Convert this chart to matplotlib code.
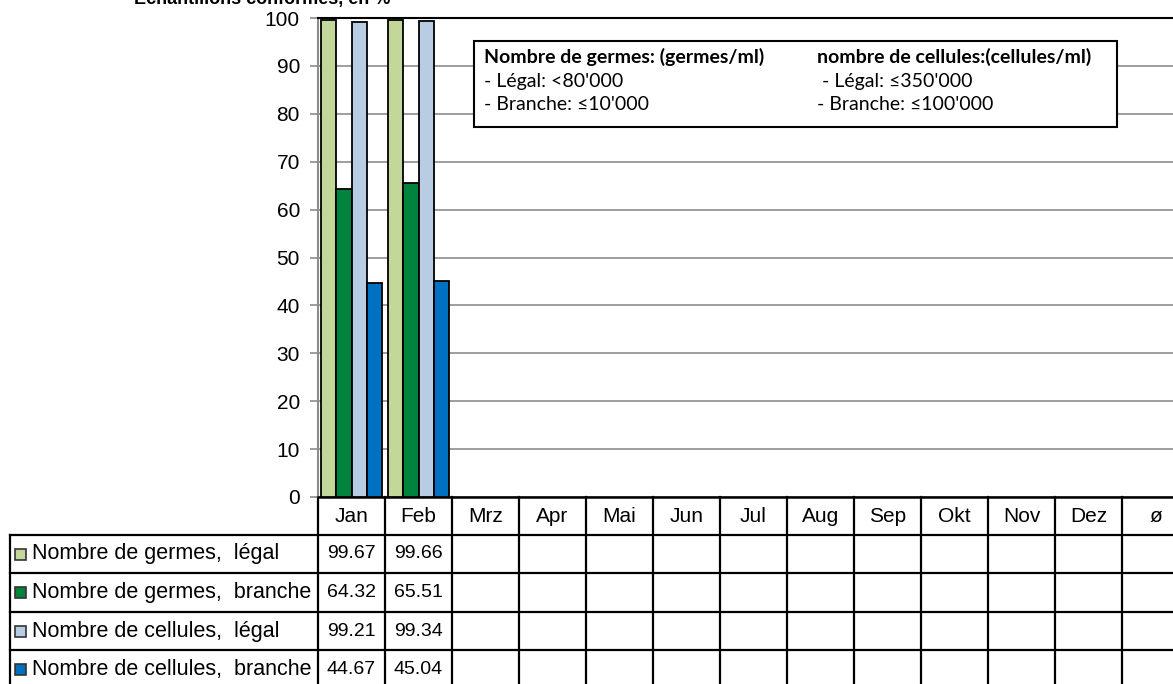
import numpy as np
import matplotlib.pyplot as plt
from matplotlib.patches import Rectangle
from matplotlib.transforms import blended_transform_factory

W, H = 1173, 684

months = ["Jan", "Feb", "Mrz", "Apr", "Mai", "Jun", "Jul", "Aug", "Sep", "Okt", "Nov", "Dez", "ø"]
series_names = [
    "Nombre de germes,  légal",
    "Nombre de germes,  branche",
    "Nombre de cellules,  légal",
    "Nombre de cellules,  branche",
]
germes_legal = [99.67, 99.66]
germes_branche = [64.32, 65.51]
cellules_legal = [99.21, 99.34]
cellules_branche = [44.67, 45.04]
series_values = [germes_legal, germes_branche, cellules_legal, cellules_branche]
colors = ["#C4D79B", "#00843D", "#B8CCE4", "#0070C0"]

yticks = list(range(0, 101, 10))

plt.rcParams['font.family'] = ['Liberation Sans', 'DejaVu Sans']

fig = plt.figure(figsize=(W / 100, H / 100), dpi=100)


def fx(px):
    return px / W


def fy(py):
    return 1 - py / H


# plot area: left spine at x=318, 0 at y=497, 100 at y=18, 67 px per column
col_w = 67
ax = fig.add_axes([fx(318), fy(497), col_w * len(months) / W, (497 - 18) / H])
ax.set_xlim(-0.5, len(months) - 0.5)
ax.set_ylim(0, 100)

bw = 0.225
offsets = (np.arange(4) - 1.5) * bw
for k, vals in enumerate(series_values):
    x = np.arange(len(vals)) + offsets[k]
    ax.bar(x, vals, width=bw, color=colors[k], edgecolor="black", linewidth=1.3, zorder=3)

ax.set_yticks(yticks)
ax.set_yticklabels([str(t) for t in yticks], fontsize=15)
ax.set_xticks([])
ax.tick_params(axis="y", length=6, width=1.2, color="#8c8c8c", pad=7)
ax.yaxis.grid(True, color="#8c8c8c", linewidth=1.2, zorder=0)
ax.set_axisbelow(True)
ax.spines["right"].set_visible(False)
ax.spines["left"].set_color("#8c8c8c")
ax.spines["left"].set_linewidth(1.5)
ax.spines["top"].set_linewidth(1.5)
ax.spines["bottom"].set_linewidth(1.8)

# title, cut at top edge like the original
fig.text(fx(262), fy(4), "Echantillons conformes, en %", fontsize=13, fontweight="bold",
         ha="center", va="baseline")

# info box
box = Rectangle((fx(474), fy(127)), fx(1117) - fx(474), fy(41) - fy(127),
                transform=fig.transFigure, facecolor="white", edgecolor="black",
                linewidth=1.5, zorder=5)
fig.add_artist(box)
box_font = ['Lato', 'DejaVu Sans']
box_lines = [
    (484, 57, "Nombre de germes: (germes/ml)", "bold"),
    (484, 81, "- Légal: <80'000", "normal"),
    (484, 105, "- Branche: ≤10'000", "normal"),
    (817, 57, "nombre de cellules:(cellules/ml)", "bold"),
    (817, 81, " - Légal: ≤350'000", "normal"),
    (817, 105, "- Branche: ≤100'000", "normal"),
]
for px, py, txt, wt in box_lines:
    fig.text(fx(px), fy(py), txt, fontsize=14, fontweight=wt, family=box_font,
             ha="left", va="center", zorder=6)

# data table below the axis
tr = blended_transform_factory(ax.transData, fig.transFigure)
x_left = -0.5 - (318 - 10) / col_w
x_right = len(months) - 0.5
row_tops = [535, 573, 612, 650, 689]
lw = 1.6

for i in range(len(months) + 1):
    ax.plot([i - 0.5, i - 0.5], [fy(497), fy(700)], transform=tr, color="black",
            linewidth=lw, clip_on=False)
ax.plot([x_left, x_left], [fy(row_tops[0]), fy(700)], transform=tr, color="black",
        linewidth=lw, clip_on=False)
for py in row_tops:
    ax.plot([x_left, x_right], [fy(py), fy(py)], transform=tr, color="black",
            linewidth=lw, clip_on=False)

for i, m in enumerate(months):
    ax.text(i, fy(517), m, transform=tr, ha="center", va="center", fontsize=15)

for k, name in enumerate(series_names):
    cy = (row_tops[k] + row_tops[k + 1]) / 2
    sq = Rectangle((fx(15), fy(cy + 5.5)), 11 / W, 11 / H, transform=fig.transFigure,
                   facecolor=colors[k], edgecolor="#333333", linewidth=1.2)
    fig.add_artist(sq)
    fig.text(fx(32), fy(cy), name, fontsize=15.5, ha="left", va="center")
    for i, v in enumerate(series_values[k]):
        ax.text(i, fy(cy), f"{v:.2f}", transform=tr, ha="center", va="center", fontsize=14)

fig.savefig("out.png", dpi=100)
